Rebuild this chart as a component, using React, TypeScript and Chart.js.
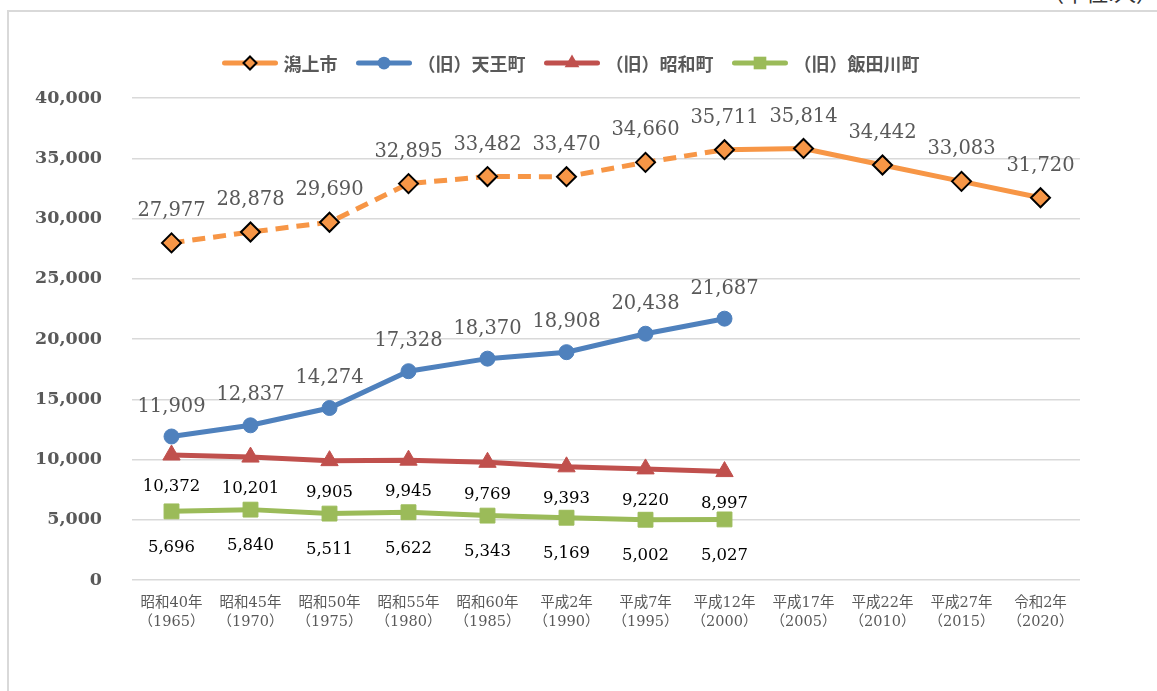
import React, { useEffect, useRef } from "react";
import { Chart, registerables } from "chart.js";

Chart.register(...registerables);

const categories: string[][] = [
  ["昭和40年", "（1965）"],
  ["昭和45年", "（1970）"],
  ["昭和50年", "（1975）"],
  ["昭和55年", "（1980）"],
  ["昭和60年", "（1985）"],
  ["平成2年", "（1990）"],
  ["平成7年", "（1995）"],
  ["平成12年", "（2000）"],
  ["平成17年", "（2005）"],
  ["平成22年", "（2010）"],
  ["平成27年", "（2015）"],
  ["令和2年", "（2020）"],
];

const seriesNames = ["潟上市", "（旧）天王町", "（旧）昭和町", "（旧）飯田川町"];

const katagamiValues = [27977, 28878, 29690, 32895, 33482, 33470, 34660, 35711, 35814, 34442, 33083, 31720];
const tennoValues = [11909, 12837, 14274, 17328, 18370, 18908, 20438, 21687, null, null, null, null];
const showaValues = [10372, 10201, 9905, 9945, 9769, 9393, 9220, 8997, null, null, null, null];
const iitagawaValues = [5696, 5840, 5511, 5622, 5343, 5169, 5002, 5027, null, null, null, null];

const yMin = 0;
const yMax = 40000;
const yStep = 5000;

const unitText = "（単位:人）";

const COLORS = ["#F79646", "#4F81BD", "#C0504D", "#9BBB59"];
const MARKERS = ["rectRot", "circle", "triangle", "rect"];
const MARKER_R = [9.5, 7.5, 10, 10.5];
const LABEL_OFFSETS = [-32, -30, 32, 36];
const LABEL_FONTS = ['19.5px "DejaVu Serif", serif', '19.5px "DejaVu Serif", serif', '16.5px "DejaVu Serif", serif', '16.5px "DejaVu Serif", serif'];
const LABEL_COLORS = ["#595959", "#595959", "#000000", "#000000"];

const fmt = (v: number) => v.toLocaleString("en-US");

function drawMarker(ctx: CanvasRenderingContext2D, style: string, x: number, y: number, r: number, fill: string, stroke: string | null) {
  ctx.beginPath();
  if (style === "circle") {
    ctx.arc(x, y, r, 0, Math.PI * 2);
  } else if (style === "rectRot") {
    ctx.moveTo(x, y - r);
    ctx.lineTo(x + r, y);
    ctx.lineTo(x, y + r);
    ctx.lineTo(x - r, y);
    ctx.closePath();
  } else if (style === "triangle") {
    const h = r * 0.866;
    ctx.moveTo(x, y - r);
    ctx.lineTo(x + h, y + r / 2);
    ctx.lineTo(x - h, y + r / 2);
    ctx.closePath();
  } else {
    const s = r * Math.SQRT1_2;
    ctx.rect(x - s, y - s, 2 * s, 2 * s);
  }
  ctx.fillStyle = fill;
  ctx.fill();
  if (stroke) {
    ctx.strokeStyle = stroke;
    ctx.lineWidth = 2;
    ctx.stroke();
  }
}

const legendPlugin = {
  id: "customLegend",
  afterDraw(chart: any) {
    const ctx: CanvasRenderingContext2D = chart.ctx;
    ctx.save();
    ctx.font = 'bold 18px "Noto Sans CJK JP", sans-serif';
    const lineLen = 55;
    const textGap = 6;
    const itemGap = 19;
    const widths = seriesNames.map((n) => lineLen + textGap + ctx.measureText(n).width);
    const total = widths.reduce((a, b) => a + b, 0) + itemGap * (seriesNames.length - 1);
    let x = 571 - total / 2;
    const y = 63;
    seriesNames.forEach((name, i) => {
      ctx.beginPath();
      ctx.strokeStyle = COLORS[i];
      ctx.lineWidth = 5;
      ctx.lineCap = "round";
      ctx.moveTo(x + 2, y);
      ctx.lineTo(x + lineLen - 2, y);
      ctx.stroke();
      const mx = x + lineLen / 2;
      if (i === 0) {
        drawMarker(ctx, "rectRot", mx, y, 6.5, COLORS[0], "#000000");
      } else {
        drawMarker(ctx, MARKERS[i], mx, y, MARKER_R[i] * 0.85, COLORS[i], null);
      }
      ctx.fillStyle = "#595959";
      ctx.textAlign = "left";
      ctx.textBaseline = "middle";
      ctx.fillText(name, x + lineLen + textGap, y + 1);
      x += widths[i] + itemGap;
    });
    ctx.restore();
  },
};

const dataLabelPlugin = {
  id: "dataLabels",
  afterDatasetsDraw(chart: any) {
    const ctx: CanvasRenderingContext2D = chart.ctx;
    ctx.save();
    chart.data.datasets.forEach((ds: any, di: number) => {
      const meta = chart.getDatasetMeta(di);
      ctx.font = LABEL_FONTS[di];
      ctx.fillStyle = LABEL_COLORS[di];
      ctx.textAlign = "center";
      ctx.textBaseline = "middle";
      meta.data.forEach((pt: any, i: number) => {
        const v = ds.data[i];
        if (v === null || v === undefined) return;
        ctx.fillText(fmt(v), pt.x, pt.y + LABEL_OFFSETS[di]);
      });
    });
    ctx.restore();
  },
};

export default function App() {
  const canvasRef = useRef<HTMLCanvasElement | null>(null);

  useEffect(() => {
    if (!canvasRef.current) return;
    const allValues = [katagamiValues, tennoValues, showaValues, iitagawaValues];
    const chart = new Chart(canvasRef.current, {
      type: "line",
      data: {
        labels: categories,
        datasets: allValues.map((vals, i) => ({
          label: seriesNames[i],
          data: vals,
          borderColor: COLORS[i],
          backgroundColor: COLORS[i],
          borderWidth: 5,
          pointStyle: MARKERS[i] as any,
          pointRadius: MARKER_R[i],
          pointHoverRadius: MARKER_R[i],
          pointBackgroundColor: COLORS[i],
          pointBorderColor: i === 0 ? "#000000" : COLORS[i],
          pointBorderWidth: i === 0 ? 2 : 1,
          tension: 0,
          fill: false,
          spanGaps: false,
          segment:
            i === 0
              ? { borderDash: (c: any) => (c.p1DataIndex <= 7 ? [13, 8] : undefined) }
              : undefined,
        })),
      },
      options: {
        responsive: false,
        animation: false,
        devicePixelRatio: 1,
        layout: { padding: { left: 0, right: 77, top: 98, bottom: 0 } },
        plugins: {
          legend: { display: false },
          title: { display: false },
          tooltip: { enabled: false },
        },
        scales: {
          x: {
            type: "category",
            offset: true,
            afterFit: (s: any) => {
              s.height = 111;
            },
            grid: { display: false, drawTicks: false },
            border: { display: false },
            ticks: {
              color: "#595959",
              font: { family: '"DejaVu Serif", "Noto Sans CJK JP", serif', size: 14.5, lineHeight: 1.3 },
              padding: 14,
              maxRotation: 0,
              autoSkip: false,
            },
          },
          y: {
            min: yMin,
            max: yMax,
            afterFit: (s: any) => {
              s.width = 132;
            },
            grid: { color: "#D9D9D9", lineWidth: 1.5, drawTicks: false },
            border: { display: false },
            ticks: {
              stepSize: yStep,
              color: "#595959",
              padding: 30,
              font: { family: '"DejaVu Serif", serif', size: 17.5, weight: "bold" },
              callback: (v: any) => fmt(Number(v)),
            },
          },
        },
      },
      plugins: [dataLabelPlugin, legendPlugin],
    });
    return () => chart.destroy();
  }, []);

  return (
    <div style={{ position: "fixed", left: 0, top: 0, width: 1157, height: 691, overflow: "hidden", background: "#ffffff" }}>
      <div
        style={{
          position: "absolute",
          left: 1042,
          top: -25,
          font: '22px "Noto Sans CJK JP", sans-serif',
          color: "#333333",
          whiteSpace: "nowrap",
        }}
      >
        {unitText}
      </div>
      <div
        style={{
          position: "absolute",
          left: 7,
          top: 10,
          width: 1300,
          height: 800,
          border: "2px solid #D9D9D9",
          boxSizing: "border-box",
        }}
      />
      <canvas ref={canvasRef} width={1157} height={691} style={{ position: "absolute", left: 0, top: 0, width: 1157, height: 691 }} />
    </div>
  );
}
